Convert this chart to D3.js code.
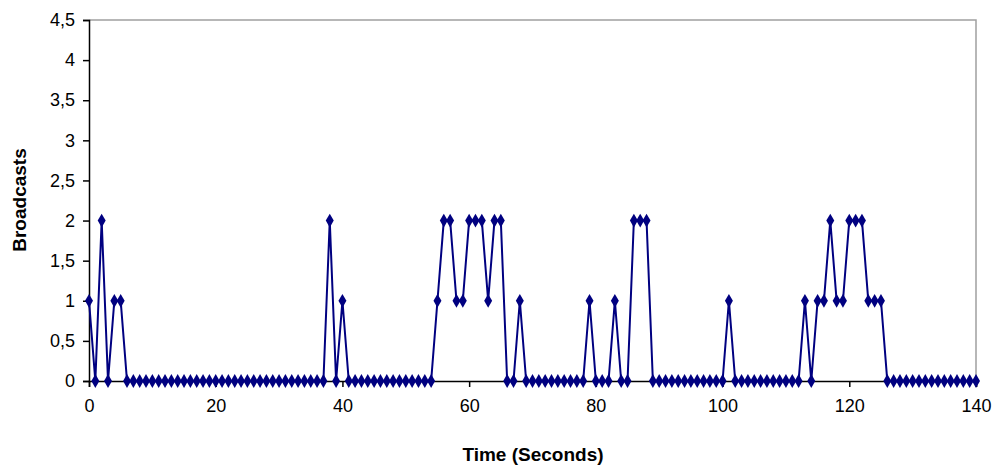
<!DOCTYPE html><html><head><meta charset="utf-8"><script src="https://cdn.jsdelivr.net/npm/d3@7"></script>
<style>body{margin:0;background:#fff}text{font-family:"Liberation Sans",Arial,sans-serif}</style></head><body><svg id="c" width="1000" height="474"></svg><script>
const times = d3.range(0,141);
const values = [1,0,2,0,1,1,0,0,0,0, 0,0,0,0,0,0,0,0,0,0, 0,0,0,0,0,0,0,0,0,0, 0,0,0,0,0,0,0,0,2,0,
1,0,0,0,0,0,0,0,0,0, 0,0,0,0,0,1,2,2,1,1, 2,2,2,1,2,2,0,0,1,0, 0,0,0,0,0,0,0,0,0,1,
0,0,0,1,0,0,2,2,2,0, 0,0,0,0,0,0,0,0,0,0, 0,1,0,0,0,0,0,0,0,0, 0,0,0,1,0,1,1,2,1,1,
2,2,2,1,1,1,0,0,0,0, 0,0,0,0,0,0,0,0,0,0, 0];
const xTicks=[0,20,40,60,80,100,120,140];
const yTicks=[0,0.5,1,1.5,2,2.5,3,3.5,4,4.5];
const svg=d3.select("#c");
const L=89,R=976,T=20,B=381;
const x=d3.scaleLinear().domain([0,140]).range([L,R]);
const y=d3.scaleLinear().domain([0,4.5]).range([B,T]);
svg.append("path").attr("d",`M${L},${T}H${R}V${B}`).attr("fill","none").attr("stroke","#a0a0a0").attr("stroke-width",1.5);
const fmt=d=>String(d).replace(".",",");
const ya=svg.append("g").attr("transform",`translate(${L},0)`).call(d3.axisLeft(y).tickValues(yTicks).tickSize(6).tickPadding(8).tickFormat(fmt));
const xa=svg.append("g").attr("transform",`translate(0,${B})`).call(d3.axisBottom(x).tickValues(xTicks).tickSize(6).tickPadding(12).tickFormat(fmt));
[ya,xa].forEach(a=>{a.selectAll("path,line").attr("stroke","#000").attr("stroke-width",1.5);a.selectAll("text").attr("font-size",18).attr("fill","#000").style("font-family","Liberation Sans, Arial");});
const data=times.map((t,i)=>[t,values[i]]);
svg.append("path").datum(data).attr("fill","none").attr("stroke","#000080").attr("stroke-width",2)
 .attr("d",d3.line().x(d=>x(d[0])).y(d=>y(d[1])));
svg.append("g").selectAll("path").data(data).join("path")
 .attr("transform",d=>`translate(${x(d[0])},${y(d[1])})`)
 .attr("d",d3.symbol(d3.symbolDiamond,55)).attr("fill","#000080");
svg.append("text").attr("x",533).attr("y",461).attr("text-anchor","middle").attr("font-size",19).attr("font-weight","bold").text("Time (Seconds)");
svg.append("text").attr("transform","translate(26,200) rotate(-90)").attr("text-anchor","middle").attr("font-size",19).attr("font-weight","bold").text("Broadcasts");
</script></body></html>
